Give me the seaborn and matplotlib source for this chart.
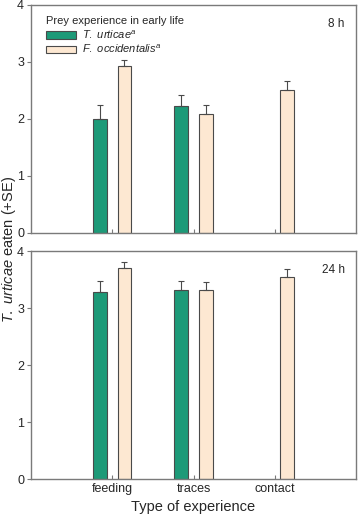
import numpy as np
import pandas as pd
import matplotlib
matplotlib.use("Agg")
import matplotlib.pyplot as plt
import seaborn as sns

# data
categories = ["feeding", "traces", "contact"]
prey = ["T. urticae", "F. occidentalis"]
mean_8h_tu = [2.00, 2.23, np.nan]
se_8h_tu = [0.24, 0.19, np.nan]
mean_8h_fo = [2.93, 2.08, 2.51]
se_8h_fo = [0.11, 0.17, 0.16]
mean_24h_tu = [3.29, 3.32, np.nan]
se_24h_tu = [0.18, 0.15, np.nan]
mean_24h_fo = [3.71, 3.32, 3.54]
se_24h_fo = [0.10, 0.14, 0.15]

colors = {"T. urticae": "#1d9a78", "F. occidentalis": "#fde8d2"}

sns.set_style("ticks")
plt.rcParams["font.family"] = ["Liberation Sans", "DejaVu Sans"]
plt.rcParams["mathtext.fontset"] = "custom"
plt.rcParams["mathtext.rm"] = "Liberation Sans"
plt.rcParams["mathtext.it"] = "Liberation Sans:italic"

def make_df(m_tu, s_tu, m_fo, s_fo):
    rows = []
    for i, c in enumerate(categories):
        rows.append((c, prey[0], m_tu[i], s_tu[i]))
        rows.append((c, prey[1], m_fo[i], s_fo[i]))
    return pd.DataFrame(rows, columns=["exp", "prey", "mean", "se"])

df8 = make_df(mean_8h_tu, se_8h_tu, mean_8h_fo, se_8h_fo)
df24 = make_df(mean_24h_tu, se_24h_tu, mean_24h_fo, se_24h_fo)

fig = plt.figure(figsize=(3.59, 5.15), dpi=100)
ax1 = fig.add_axes([0.0864, 0.5476, 0.9053, 0.4427])
ax2 = fig.add_axes([0.0864, 0.0693, 0.9053, 0.4433])

grey = "#7a7a7a"
for ax, df, label in [(ax1, df8, "8 h"), (ax2, df24, "24 h")]:
    sns.barplot(data=df, x="exp", y="mean", hue="prey", hue_order=prey,
                order=categories, palette=colors, width=0.6, gap=0.43,
                saturation=1, errorbar=None, edgecolor="#4a4a4a",
                linewidth=0.8, legend=(ax is ax1), ax=ax)
    # upward error bars
    for p in ax.patches:
        h = p.get_height()
        if not np.isfinite(h) or h <= 0:
            continue
        xc = p.get_x() + p.get_width() / 2
        ci = int(round(xc))
        hue = prey[0] if xc < ci else prey[1]
        se = df[(df["exp"] == categories[ci]) & (df["prey"] == hue)]["se"].iloc[0]
        ax.errorbar(xc, h, yerr=[[0], [se]], fmt="none", ecolor="#4a4a4a",
                    elinewidth=0.8, capsize=2.2, capthick=0.8)
    ax.set_xlim(-1, 3)
    ax.set_ylim(0, 4)
    ax.set_yticks([0, 1, 2, 3, 4])
    ax.set_ylabel("")
    ax.set_xlabel("")
    for s in ax.spines.values():
        s.set_color(grey)
        s.set_linewidth(1.0)
        s.set_visible(True)
    ax.tick_params(axis="y", direction="out", length=3, width=0.8, color=grey,
                   labelsize=9, pad=2)
    ax.tick_params(axis="x", direction="in", length=3, width=0.8, color=grey,
                   labelsize=9, pad=3)
    ax.text(0.965, 0.915, label, transform=ax.transAxes, ha="right",
            va="center", fontsize=8.5)

ax1.set_xticklabels([])
ax2.set_xlabel("Type of experience", fontsize=10.5, labelpad=3)

handles, _ = ax1.get_legend_handles_labels()
ax1.legend(handles, [r"$\it{T.\ urticae}^{a}$", r"$\it{F.\ occidentalis}^{a}$"],
           title="Prey experience in early life", loc="upper left",
           bbox_to_anchor=(0.02, 0.99), frameon=False, fontsize=8,
           title_fontsize=8, alignment="left", handlelength=2.7,
           handleheight=0.7, labelspacing=0.2, handletextpad=0.5,
           borderpad=0.3)

fig.text(0.025, 0.515, r"$\it{T.\ urticae}$ eaten (+SE)", rotation=90,
         ha="center", va="center", fontsize=10.5)

fig.savefig("out.png", dpi=100)
